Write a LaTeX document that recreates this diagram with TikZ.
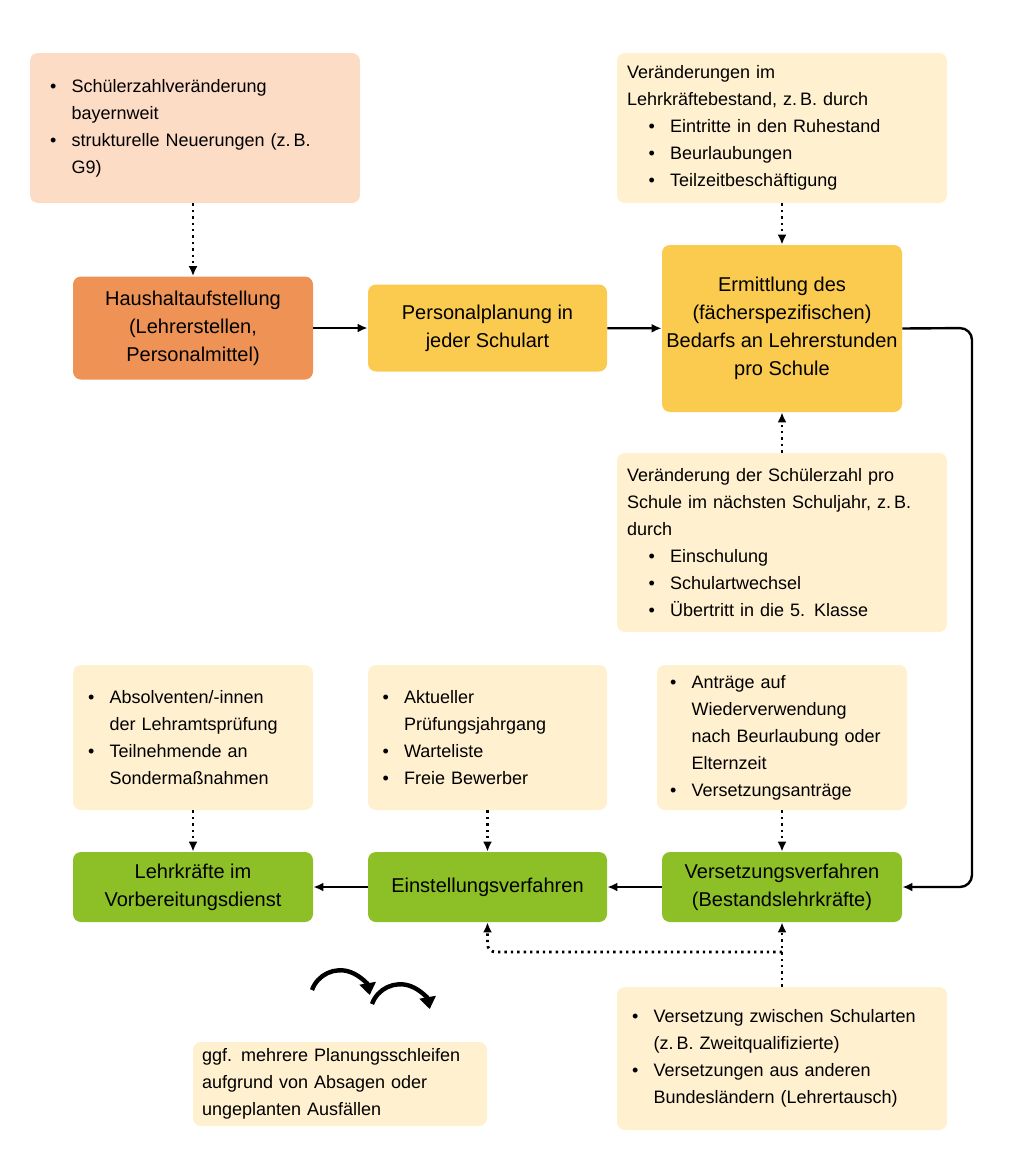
\documentclass[tikz,border=0pt]{standalone}
\usepackage{fontspec}
\setmainfont{Liberation Sans}
\usetikzlibrary{arrows.meta,positioning}
\definecolor{pinkbox}{HTML}{FDDCC6}
\definecolor{creambox}{HTML}{FFF0CF}
\definecolor{orangebox}{HTML}{EE9355}
\definecolor{yellowbox}{HTML}{FBCB50}
\definecolor{greenbox}{HTML}{8DC026}
\newcommand{\bul}{\makebox[1.2em][l]{\textbullet}}
\newcommand{\ind}{\hspace*{1.2em}}
\begin{document}
\begin{tikzpicture}[x=0.5pt,y=-0.5pt,
    box/.style={rounded corners=4pt,inner sep=0pt,font=\fontsize{9}{13.5}\selectfont},
    note/.style={box,fill=creambox,align=left},
    main/.style={box,align=center,font=\fontsize{10}{14}\selectfont},
    flow/.style={-{Latex[length=5pt,width=4.5pt]},line width=1.2pt},
    dots/.style={flow,dotted,line width=1.4pt}]
  \useasboundingbox (0,0) rectangle (1024,1173);
  % boxes
  \node[note,fill=pinkbox,minimum width=165pt,minimum height=75pt,text width=145pt] (infoA) at (195,128)
    {\bul Schülerzahlveränderung\\\ind bayernweit\\\bul strukturelle Neuerungen (z.\,B.\\\ind G9)};
  \node[note,minimum width=165pt,minimum height=75pt,text width=155pt] (infoB) at (782,128)
    {Veränderungen im\\Lehrkräftebestand, z.\,B. durch\\\ind\bul Eintritte in den Ruhestand\\\ind\bul Beurlaubungen\\\ind\bul Teilzeitbeschäftigung};
  \node[main,fill=orangebox,minimum width=120pt,minimum height=51.5pt] (haushalt) at (193,328)
    {Haushaltaufstellung\\(Lehrerstellen,\\Personalmittel)};
  \node[main,fill=yellowbox,minimum width=119.5pt,minimum height=43.5pt] (personal) at (487.5,328)
    {Personalplanung in\\jeder Schulart};
  \node[main,fill=yellowbox,minimum width=120pt,minimum height=83.5pt] (ermittlung) at (782,328.5)
    {Ermittlung des\\(fächerspezifischen)\\Bedarfs an Lehrerstunden\\pro Schule};
  \node[note,minimum width=165pt,minimum height=89.5pt,text width=155pt] (infoC) at (782,542.5)
    {Veränderung der Schülerzahl pro\\Schule im nächsten Schuljahr, z.\,B.\\durch\\\ind\bul Einschulung\\\ind\bul Schulartwechsel\\\ind\bul Übertritt in die 5. Klasse};
  \node[note,minimum width=120pt,minimum height=72.5pt,text width=105pt] (infoD) at (193,737.5)
    {\bul Absolventen/-innen\\\ind der Lehramtsprüfung\\\bul Teilnehmende an\\\ind Sondermaßnahmen};
  \node[note,minimum width=119.5pt,minimum height=72.5pt,text width=105pt] (infoE) at (487.5,737.5)
    {\bul Aktueller\\\ind Prüfungsjahrgang\\\bul Warteliste\\\bul Freie Bewerber};
  \node[note,minimum width=125pt,minimum height=72.5pt,text width=112pt] (infoF) at (782,737.5)
    {\bul Anträge auf\\\ind Wiederverwendung\\\ind nach Beurlaubung oder\\\ind Elternzeit\\\bul Versetzungsanträge};
  \node[main,fill=greenbox,minimum width=120pt,minimum height=35pt] (vorb) at (193,887)
    {Lehrkräfte im\\Vorbereitungsdienst};
  \node[main,fill=greenbox,minimum width=119.5pt,minimum height=35pt] (einst) at (487.5,887)
    {Einstellungsverfahren};
  \node[main,fill=greenbox,minimum width=120pt,minimum height=35pt] (verset) at (782,887)
    {Versetzungsverfahren\\(Bestandslehrkräfte)};
  \node[note,minimum width=165pt,minimum height=71.5pt,text width=150pt] (infoG) at (782,1058.5)
    {\bul Versetzung zwischen Schularten\\\ind (z.\,B. Zweitqualifizierte)\\\bul Versetzungen aus anderen\\\ind Bundesländern (Lehrertausch)};
  \node[note,minimum width=147pt,minimum height=42pt,text width=138pt] (infoH) at (340,1084)
    {ggf. mehrere Planungsschleifen\\aufgrund von Absagen oder\\ungeplanten Ausfällen};
  % cycle icon
  \draw[line width=2.2pt,-{Triangle[length=6pt,width=8pt]}] (312,990) arc[start angle=200,end angle=350,radius=30];
  \draw[line width=2.2pt,-{Triangle[length=6pt,width=8pt]}] (372,1004) arc[start angle=20,end angle=170,radius=-30];
  % connectors
  \draw[dots] (infoA.south -| haushalt) -- (haushalt);
  \draw[flow] (haushalt) -- (personal);
  \draw[flow] (personal) -- (ermittlung);
  \draw[dots] (infoB) -- (ermittlung);
  \draw[dots] (infoC) -- (ermittlung);
  \coordinate (turnA) at (972,328);
  \coordinate (turnB) at (972,887);
  \draw[flow,rounded corners=6pt] (ermittlung.east) -- (turnA) -- (turnB) -- (verset.east);
  \draw[dots] (infoD) -- (vorb);
  \draw[dots] (infoE) -- (einst);
  \draw[dots] (infoF) -- (verset);
  \draw[flow] (verset) -- (einst);
  \draw[flow] (einst) -- (vorb);
  \draw[dots] (infoG) -- (verset);
  \coordinate (split) at (782,952);
  \draw[dots,rounded corners=4pt] (split) -- (split -| einst) -- (einst.south);
\end{tikzpicture}
\end{document}
